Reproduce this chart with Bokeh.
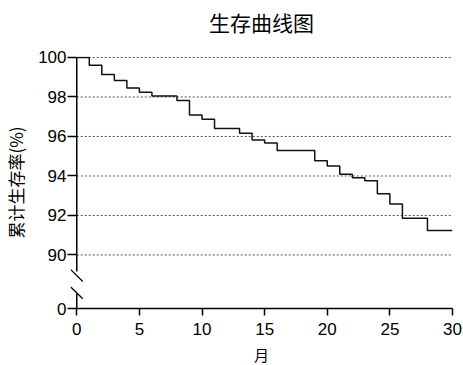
from bokeh.plotting import figure
from bokeh.models import FixedTicker, CustomJSTickFormatter, Range1d, LinearAxis
from bokeh.embed import file_html
from bokeh.resources import INLINE

# ---- data ----
months = [0, 1, 2, 3, 4, 5, 6, 8, 9, 10, 11, 13, 14, 15, 16, 19, 20, 21, 22, 23, 24, 25, 26, 28, 30]
survival = [100, 99.61, 99.14, 98.84, 98.45, 98.24, 98.05, 97.82, 97.09, 96.87, 96.40, 96.17,
            95.82, 95.67, 95.29, 94.77, 94.50, 94.09, 93.91, 93.76, 93.10, 92.58, 91.86, 91.24, 91.24]
x_ticks = [0, 5, 10, 15, 20, 25, 30]
y_ticks_upper = [90, 92, 94, 96, 98, 100]

title_text = "生存曲线图"
x_label = "月"
y_label = "累计生存率(%)"

# broken y axis: values >= 90 are drawn as is, value 0 is drawn at ZERO_POS
ZERO_POS = 87.29
Y_TOP = 100.05
BREAK_UPPER_END = 89.16
BREAK_LOWER_START = 88.05
SLASH_CENTERS = [88.96, 88.08]
SLASH_DX = 0.48
SLASH_DY = 0.30

CJK = "Noto Sans CJK SC"
LAT = "Liberation Sans"

p = figure(frame_width=382, frame_height=252,
           min_border_left=69, min_border_right=12, min_border_top=56, min_border_bottom=57,
           x_range=Range1d(-0.5, 30), y_range=Range1d(ZERO_POS, Y_TOP),
           output_backend="svg", toolbar_location=None)

p.outline_line_color = None
p.xgrid.visible = False
p.ygrid.visible = False
p.background_fill_color = "white"
p.border_fill_color = "white"

# x axis (bottom)
xa = p.below[0]
xa.ticker = FixedTicker(ticks=x_ticks)
xa.bounds = (0, 30)
xa.axis_line_width = 1.5
xa.axis_line_color = "#000000"
xa.major_tick_out = 7
xa.major_tick_in = 0
xa.major_tick_line_width = 1.5
xa.major_tick_line_color = "#000000"
xa.minor_tick_line_color = None
xa.major_label_text_font = LAT
xa.major_label_text_font_size = "17px"
xa.major_label_text_color = "#000000"
xa.major_label_standoff = 7
xa.axis_label = x_label
xa.axis_label_text_font = CJK
xa.axis_label_text_font_size = "15px"
xa.axis_label_text_font_style = "normal"
xa.axis_label_text_color = "#000000"
xa.axis_label_standoff = 6

# y axis (line drawn below as broken segments)
ya = p.left[0]
ya.ticker = FixedTicker(ticks=[ZERO_POS] + y_ticks_upper)
ya.formatter = CustomJSTickFormatter(code="return tick < 89 ? '0' : tick.toFixed(0);")
ya.axis_line_color = None
ya.major_tick_out = 3
ya.major_tick_in = 6
ya.major_tick_line_width = 1.5
ya.major_tick_line_color = "#000000"
ya.minor_tick_line_color = None
ya.major_label_text_font = LAT
ya.major_label_text_font_size = "17px"
ya.major_label_text_color = "#000000"
ya.major_label_standoff = 1
ya.axis_label = y_label
ya.axis_label_text_font = CJK
ya.axis_label_text_font_size = "17px"
ya.axis_label_text_font_style = "normal"
ya.axis_label_text_color = "#000000"
ya.axis_label_standoff = 7

# title as the label of an empty axis above the plot
top = LinearAxis(ticker=FixedTicker(ticks=[]), axis_line_color=None,
                 major_tick_out=0, major_tick_in=0, minor_tick_line_color=None,
                 major_label_standoff=0, major_label_text_font_size="0px")
top.axis_label = title_text
top.axis_label_text_font = CJK
top.axis_label_text_font_size = "21px"
top.axis_label_text_font_style = "normal"
top.axis_label_text_color = "#000000"
top.axis_label_standoff = 20
p.add_layout(top, "above")

# dotted horizontal grid lines from 0 to 30
p.segment(x0=[0] * len(y_ticks_upper), x1=[30] * len(y_ticks_upper),
          y0=y_ticks_upper, y1=y_ticks_upper,
          line_color="#555555", line_width=1, line_dash="2 2")

# broken y-axis line
p.segment(x0=[0, 0], x1=[0, 0], y0=[100, BREAK_LOWER_START], y1=[BREAK_UPPER_END, ZERO_POS],
          line_color="#000000", line_width=1.5)
# break marks
p.segment(x0=[-SLASH_DX] * 2, x1=[SLASH_DX] * 2,
          y0=[c + SLASH_DY for c in SLASH_CENTERS], y1=[c - SLASH_DY for c in SLASH_CENTERS],
          line_color="#000000", line_width=1.3)

# survival step curve
p.step(x=months, y=survival, mode="after", line_color="#111111", line_width=1.5)

open("out.html", "w").write(file_html(p, INLINE))
